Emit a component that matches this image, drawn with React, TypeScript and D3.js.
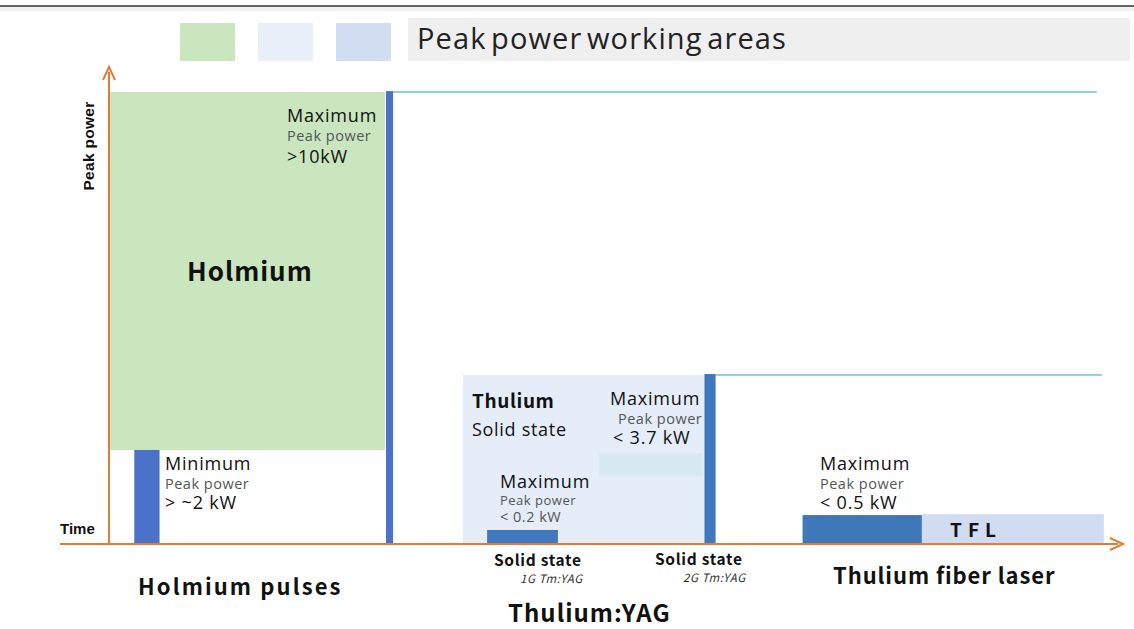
import React from 'react';
import * as d3 from 'd3';

// ==== data (abstract units: time 0-100, peak power 0-100)

const areaNames = ['Holmium', 'Thulium solid state', 'TFL'];
const areaX0 = [0.1, 35.0, 80.4];
const areaX1 = [27.3, 59.2, 98.4];
const areaY0 = [20.8, 0, 0];
const areaY1 = [100, 37.4, 6.6];
const areaColors = ['#c9e6bf', '#e4edf8', '#cfdcf1'];

const barNames = ['Holmium max', 'Holmium min', 'Tm:YAG 1G', 'Tm:YAG 2G', 'TFL max'];
const barX0 = [27.4, 2.5, 37.4, 58.9, 68.6];
const barX1 = [28.1, 5.0, 44.4, 60.0, 80.4];
const barY1 = [100.2, 20.8, 3.1, 37.6, 6.4];
const barColors = ['#4a72c9', '#4a72c9', '#3f78bf', '#3f78bf', '#3e78b9'];

const levelStart = [28.1, 60.0];
const levelEnd = [97.7, 98.2];
const levelValue = [100, 37.4];

const legendColors = ['#c9e6bf', '#e8eff9', '#d1ddf0'];

const W = 1134;
const H = 629;

const x = d3.scaleLinear().domain([0, 100]).range([109, 1120]);
const y = d3.scaleLinear().domain([0, 100]).range([544, 92]);

const sans = '"Open Sans", "Noto Sans", sans-serif';
const heavy = '"Noto Sans CJK JP", "Noto Sans", sans-serif';
const arial = '"Liberation Sans", Arial, sans-serif';

function Note({ x0, y0, lines }: { x0: number; y0: number; lines: [string, number, number, string][] }) {
    // lines: text, dx, dy, kind
    return (
        <g>
            {lines.map(([t, dx, dy, kind], i) => (
                <text
                    key={i}
                    x={x0 + dx}
                    y={y0 + dy}
                    fontFamily={sans}
                    fontSize={kind === 'big' ? 18 : kind === 'mid' ? 14.5 : 13}
                    fill={kind === 'big' ? '#111' : '#555'}
                    letterSpacing={kind === 'big' ? 0.8 : 0.5}>
                    {t}
                </text>
            ))}
        </g>
    );
}

export default function App() {
    const orange = '#e07b39';
    return (
        <svg width={W} height={H} style={{ position: 'absolute', left: 0, top: 0, background: '#fff' }}>
            <line x1={0} x2={W} y1={6} y2={6} stroke="#333" strokeWidth={1.5} />
            <rect x={0} y={7} width={W} height={4} fill="#f2f2f2" />

            {/* legend */}
            {legendColors.map((c, i) => (
                <rect key={i} x={180 + i * 78} y={23} width={55} height={38} fill={c} />
            ))}
            <rect x={408} y={18} width={722} height={43} fill="#efefef" />
            <text x={417} y={49} fontFamily={sans} fontSize={29} fill="#222" letterSpacing={1.1} wordSpacing={-4}>
                Peak power working areas
            </text>

            {/* working areas */}
            {areaNames.map((n, i) => (
                <rect
                    key={n}
                    x={x(areaX0[i])}
                    y={y(areaY1[i])}
                    width={x(areaX1[i]) - x(areaX0[i])}
                    height={y(areaY0[i]) - y(areaY1[i])}
                    fill={areaColors[i]}
                />
            ))}
            <rect x={x(48.5)} y={y(20.1)} width={x(58.7) - x(48.5)} height={y(15.0) - y(20.1)} fill="#d9e9f1" />

            {/* level lines */}
            {levelValue.map((v, i) => (
                <line key={i} x1={x(levelStart[i])} x2={x(levelEnd[i])} y1={y(v)} y2={y(v)} stroke="#6cc3d3" strokeWidth={1.5} />
            ))}

            {/* bars */}
            {barNames.map((n, i) => (
                <rect
                    key={n}
                    x={x(barX0[i])}
                    y={y(barY1[i])}
                    width={x(barX1[i]) - x(barX0[i])}
                    height={y(0) - y(barY1[i]) - 1}
                    fill={barColors[i]}
                />
            ))}

            {/* axes */}
            <line x1={109} x2={109} y1={545} y2={72} stroke={orange} strokeWidth={2} />
            <path d="M103,80 L109,67 L115,80" fill="none" stroke={orange} strokeWidth={2} />
            <line x1={60} x2={1118} y1={544} y2={544} stroke={orange} strokeWidth={2} />
            <path d="M1110,538 L1123,544 L1110,550" fill="none" stroke={orange} strokeWidth={2} />

            <text transform="translate(94,146) rotate(-90)" textAnchor="middle" fontFamily={arial} fontWeight="bold" fontSize={15.5} fill="#111" letterSpacing={0.3}>
                Peak power
            </text>
            <text x={60} y={534} fontFamily={arial} fontWeight="bold" fontSize={15} fill="#111">Time</text>

            {/* annotations */}
            <Note x0={287} y0={122} lines={[['Maximum', 0, 0, 'big'], ['Peak power', 0, 19, 'mid'], ['>10kW', 0, 41, 'big']]} />
            <text x={187} y={281} fontFamily={heavy} fontWeight="bold" fontSize={26} fill="#111" letterSpacing={1}>Holmium</text>
            <Note x0={165} y0={470} lines={[['Minimum', 0, 0, 'big'], ['Peak power', 0, 19, 'mid'], ['> ~2 kW', 0, 39, 'big']]} />

            <text x={472} y={408} fontFamily={heavy} fontWeight="bold" fontSize={19} fill="#111" letterSpacing={0.6}>Thulium</text>
            <text x={472} y={436} fontFamily={sans} fontSize={18} fill="#111" letterSpacing={0.7}>Solid state</text>
            <Note x0={610} y0={405} lines={[['Maximum', 0, 0, 'big'], ['Peak power', 8, 19, 'mid'], ['< 3.7 kW', 3, 39, 'big']]} />
            <Note x0={500} y0={488} lines={[['Maximum', 0, 0, 'big'], ['Peak power', 0, 17, 'small'], ['< 0.2 kW', 0, 34, 'mid']]} />
            <Note x0={820} y0={470} lines={[['Maximum', 0, 0, 'big'], ['Peak power', 0, 19, 'mid'], ['< 0.5 kW', 0, 39, 'big']]} />
            <text x={950} y={537} fontFamily={heavy} fontWeight="bold" fontSize={19} fill="#111" letterSpacing={6}>TFL</text>

            {/* category labels */}
            <text x={494} y={566} fontFamily={heavy} fontWeight="bold" fontSize={15.5} fill="#111" letterSpacing={0.7}>Solid state</text>
            <text x={520} y={583} fontFamily={heavy} fontStyle="italic" fontSize={11.5} fill="#333" letterSpacing={0.6}>1G Tm:YAG</text>
            <text x={655} y={565} fontFamily={heavy} fontWeight="bold" fontSize={15.5} fill="#111" letterSpacing={0.7}>Solid state</text>
            <text x={683} y={582} fontFamily={heavy} fontStyle="italic" fontSize={11.5} fill="#333" letterSpacing={0.6}>2G Tm:YAG</text>

            <text x={138} y={595} fontFamily={heavy} fontWeight="bold" fontSize={22} fill="#111" letterSpacing={2.1}>Holmium  pulses</text>
            <text x={508} y={622} fontFamily={heavy} fontWeight="bold" fontSize={24} fill="#111" letterSpacing={1}>Thulium:YAG</text>
            <text x={833} y={584} fontFamily={heavy} fontWeight="bold" fontSize={22} fill="#111" letterSpacing={0.9}>Thulium fiber laser</text>
        </svg>
    );
}
